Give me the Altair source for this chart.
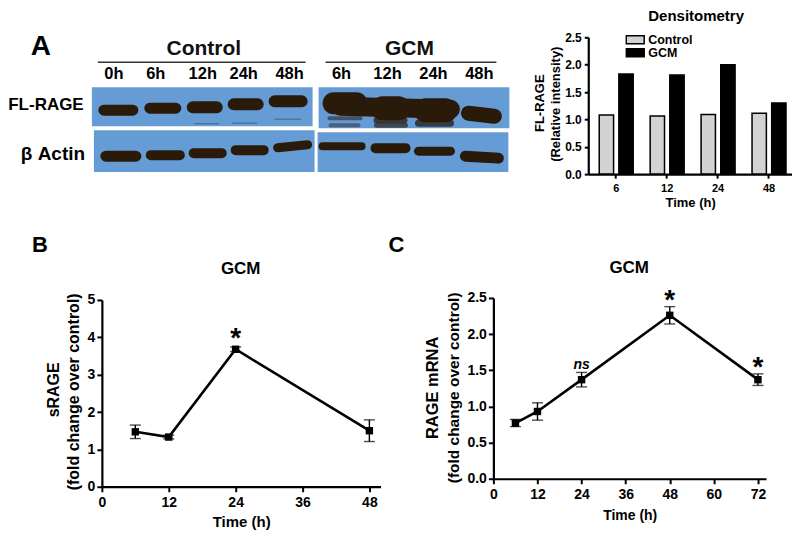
import altair as alt
import pandas as pd

FONT = "Liberation Sans"
CANVAS_W, CANVAS_H = 784, 520

# ---- densitometry
dens_times = ["6", "12", "24", "48"]
dens_control = [1.08, 1.06, 1.09, 1.11]
dens_gcm = [1.83, 1.81, 2.00, 1.30]

# ---- sRAGE
b_time = [6, 12, 24, 48]
b_mean = [1.47, 1.33, 3.68, 1.50]
b_err = [0.18, 0.05, 0.06, 0.29]

# ---- RAGE mRNA
c_time = [6, 12, 24, 48, 72]
c_mean = [0.77, 0.93, 1.37, 2.26, 1.37]
c_err = [0.05, 0.12, 0.10, 0.12, 0.08]

# ---- western blot (blot coordinates: lane start, lane end, migration start/end, thickness, density)
blot_panels = [
    (91, 312, 87, 126), (318, 509, 87, 128),
    (93, 314, 130, 172), (317, 508, 132, 172),
]
blot_bands = [
    (103, 132, 110, 110, 11, 1), (149, 175, 108, 108, 11, 1), (192, 216, 107, 107, 12, 1),
    (233, 257, 104, 104, 12, 1), (274, 301, 101, 101, 12, 1),
    (194, 218, 123.5, 123.5, 1.2, 0.35), (232, 256, 123, 123, 1.2, 0.35), (274, 300, 119, 119, 1.5, 0.3),
    (329, 360, 118, 118, 4, 0.55), (330, 358, 125, 125, 4, 0.45), (376, 404, 120, 120, 6, 0.75),
    (376, 405, 125, 125, 5, 0.65), (418, 450, 123, 123, 7, 0.75),
    (333, 356, 103, 103, 22, 1), (382, 398, 108, 108, 24, 1), (425, 445, 110, 110, 24, 1),
    (340, 450, 106, 109, 19, 1), (468, 494, 113, 116, 15, 1),
    (105, 135, 156, 156, 11, 1), (150, 179, 155, 155, 10, 1), (193, 221, 153, 153, 10, 1),
    (235, 263, 150, 150, 10, 1), (277, 307, 147.5, 144.5, 9, 1),
    (322, 361, 146, 146, 8, 1), (375, 405, 148, 148, 10, 1), (418, 450, 151, 151, 9, 1),
    (465, 498, 156, 158, 11, 1),
]
lane_labels = ["0h", "6h", "12h", "24h", "48h", "6h", "12h", "24h", "48h"]
lane_centres = [113, 155, 202, 243, 289, 341, 387, 433, 479]
group_labels = ["Control", "GCM"]
group_centres = [203, 409]
group_spans = [(97, 305), (325, 496)]


def label(text, x, y, size, angle=0, style="normal"):
    """Text placed in page coordinates."""
    return alt.Chart(pd.DataFrame({"t": [text]})).mark_text(
        font=FONT, fontSize=size, fontWeight="bold", fontStyle=style, angle=angle,
        align="center", baseline="middle", color="black",
    ).encode(text="t:N", x=alt.value(x - 8), y=alt.value(y - 8))


def axis(orient, values=None, title=None, label_size=13, tick=5, title_size=14, title_pad=8, pad=3, fmt=None, offset=0):
    kw = dict(
        orient=orient,
        domainColor="black", domainWidth=2.2, tickColor="black", tickWidth=2, tickSize=tick,
        labelColor="black", labelFont=FONT, labelFontSize=label_size, labelFontWeight="bold",
        labelPadding=pad, grid=False, title=title, titleFont=FONT, titleFontSize=title_size,
        titleFontWeight="bold", titleColor="black", titlePadding=title_pad, labelAngle=0,
        labelFlush=False, labelOverlap=False, offset=offset,
    )
    if values is not None:
        kw["values"] = values
    if fmt is not None:
        kw["format"] = fmt
    return alt.Axis(**kw)


# ---------- Panel A blot
bx = alt.Scale(domain=[8, 8 + CANVAS_W], range=[0, CANVAS_W])
by = alt.Scale(domain=[8, 8 + CANVAS_H], range=[0, CANVAS_H])
X = alt.X("x:Q", scale=bx, axis=None)
Y = alt.Y("y:Q", scale=by, axis=None)

panels = pd.DataFrame(blot_panels, columns=["x", "x2", "y", "y2"])
bands = pd.DataFrame(blot_bands, columns=["x", "x2", "y", "y2", "w", "o"])
lanes = pd.DataFrame({"x": lane_centres, "t": lane_labels, "y": 74})
groups = pd.DataFrame({"x": group_centres, "t": group_labels, "y": 49})
spans = pd.DataFrame(group_spans, columns=["x", "x2"]).assign(y=62)

blot = alt.layer(
    alt.Chart(panels).mark_rect(color="#659cd6").encode(x=X, x2="x2:Q", y=Y, y2="y2:Q"),
    alt.Chart(bands).mark_rule(color="#2a1a0a", strokeCap="round").encode(
        x=X, x2="x2:Q", y=Y, y2="y2:Q",
        strokeWidth=alt.StrokeWidth("w:Q", scale=None, legend=None),
        opacity=alt.Opacity("o:Q", scale=None, legend=None)),
    alt.Chart(spans).mark_rule(color="#333333", strokeWidth=1.5).encode(x=X, x2="x2:Q", y=Y),
    alt.Chart(lanes).mark_text(font=FONT, fontSize=16.5, fontWeight="bold", color="black").encode(
        x=X, y=Y, text="t:N"),
    alt.Chart(groups).mark_text(font=FONT, fontSize=21, fontWeight="bold", color="#111111").encode(
        x=X, y=Y, text="t:N"),
)

# ---------- Densitometry (plot page x 588-792, y 37-174)
dens = pd.DataFrame({
    "time": dens_times * 2,
    "series": ["Control"] * 4 + ["GCM"] * 4,
    "value": dens_control + dens_gcm,
})
bars = alt.Chart(dens).mark_bar(stroke="black", strokeWidth=1.5).encode(
    x=alt.X("time:N", sort=dens_times,
            scale=alt.Scale(range=[580, 784], paddingInner=0.333, paddingOuter=0.1665, align=0.647),
            axis=axis("bottom", title="Time (h)", label_size=11, tick=4, title_size=13, title_pad=3, pad=4,
                      offset=166 - CANVAS_H)),
    xOffset=alt.XOffset("series:N", scale=alt.Scale(paddingInner=0.27, paddingOuter=0)),
    y=alt.Y("value:Q", scale=alt.Scale(domain=[0, 2.5], range=[166, 29]),
            axis=axis("left", values=[0, 0.5, 1, 1.5, 2, 2.5], title=None, label_size=12, tick=4, fmt=".1f", offset=-580)),
    color=alt.Color("series:N", scale=alt.Scale(domain=["Control", "GCM"], range=["#d3d3d3", "black"]),
                    legend=alt.Legend(
                        orient="none", legendX=617, legendY=25, title=None, padding=0,
                        symbolType="M-1,-0.45H1V0.45H-1Z", symbolSize=324, clipHeight=13,
                        symbolStrokeColor="black", symbolStrokeWidth=1.5,
                        labelFont=FONT, labelFontSize=12.5, labelFontWeight="bold",
                        labelColor="black", rowPadding=0, labelOffset=3)),
)


def curve(time, mean, err, xmax, ymax, xr, yr, xticks, yticks, notes, y_fmt, title_size, title_pad):
    d = pd.DataFrame({"t": time, "m": mean})
    d["lo"] = d.m - pd.Series(err)
    d["hi"] = d.m + pd.Series(err)
    xs = alt.Scale(domain=[0, xmax], range=xr)
    ys = alt.Scale(domain=[0, ymax], range=yr)
    xa = axis("bottom", values=xticks, title="Time (h)", label_size=14, tick=5, title_size=title_size,
              title_pad=title_pad, pad=4, offset=yr[0] - CANVAS_H)
    ya = axis("left", values=yticks, title=None, label_size=14, tick=5, pad=2, fmt=y_fmt, offset=-xr[0])
    x = alt.X("t:Q", scale=xs, axis=xa)
    y = alt.Y("m:Q", scale=ys, axis=ya)
    ylo = alt.Y("lo:Q", scale=ys, axis=ya)
    yhi = alt.Y("hi:Q", scale=ys, axis=ya)
    base = alt.Chart(d)
    tick = dict(color="black", orient="horizontal", size=11, thickness=1.4)
    extra = [
        alt.Chart(pd.DataFrame({"t": [a], "m": [b], "s": [c]})).mark_text(
            font=FONT, fontSize=size, fontWeight="bold", fontStyle=style, color="black", dy=dy
        ).encode(x=x, y=y, text="s:N")
        for a, b, c, dy, size, style in notes
    ]
    return alt.layer(
        base.mark_line(color="black", strokeWidth=2.6).encode(x=x, y=y),
        base.mark_rule(color="black", strokeWidth=1.4).encode(x=x, y=ylo, y2="hi:Q"),
        base.mark_tick(**tick).encode(x=x, y=ylo),
        base.mark_tick(**tick).encode(x=x, y=yhi),
        base.mark_point(shape="square", filled=True, color="black", size=55, opacity=1).encode(x=x, y=y),
        *extra,
    )


# ---------- Panel B (plot page x 101-380, y 300-487)
panel_b = curve(
    b_time, b_mean, b_err, 50, 5, [93, 372], [479, 292], [0, 12, 24, 36, 48], [0, 1, 2, 3, 4, 5],
    [(24, 3.68, "*", -10, 28, "normal")], "d", 15, 5,
)

# ---------- Panel C (plot page x 493-766, y 298-479)
panel_c = curve(
    c_time, c_mean, c_err, 74.2, 2.5, [485, 758], [471, 290], [0, 12, 24, 36, 48, 60, 72], [0, 0.5, 1, 1.5, 2, 2.5],
    [(24, 1.37, "ns", -15, 14, "italic"), (48, 2.26, "*", -14, 28, "normal"), (72, 1.37, "*", -12, 28, "normal")],
    ".1f", 14, 7,
)

texts = alt.layer(
    label("A", 40, 47, 28),
    label("FL-RAGE", 45, 105, 17),
    label("β Actin", 52, 154, 19),
    label("Densitometry", 696, 16, 15),
    label("FL-RAGE", 540, 103, 13, angle=270),
    label("(Relative intensity)", 556, 104, 13, angle=270),
    label("B", 39, 245, 22),
    label("GCM", 240, 269, 17),
    label("sRAGE", 53, 390, 16, angle=270),
    label("(fold change over control)", 73, 392, 16, angle=270),
    label("C", 396, 245, 22),
    label("GCM", 629, 268, 17),
    label("RAGE mRNA", 433, 388, 16.5, angle=270),
    label("(fold change over control)", 454, 388, 15.5, angle=270),
)

chart = alt.layer(blot, bars, panel_b, panel_c, texts).resolve_scale(
    x="independent", y="independent", color="independent"
).properties(width=CANVAS_W, height=CANVAS_H, padding=0).configure_view(stroke=None)

chart.save("out.html", embed_options={"renderer": "svg", "actions": False})
